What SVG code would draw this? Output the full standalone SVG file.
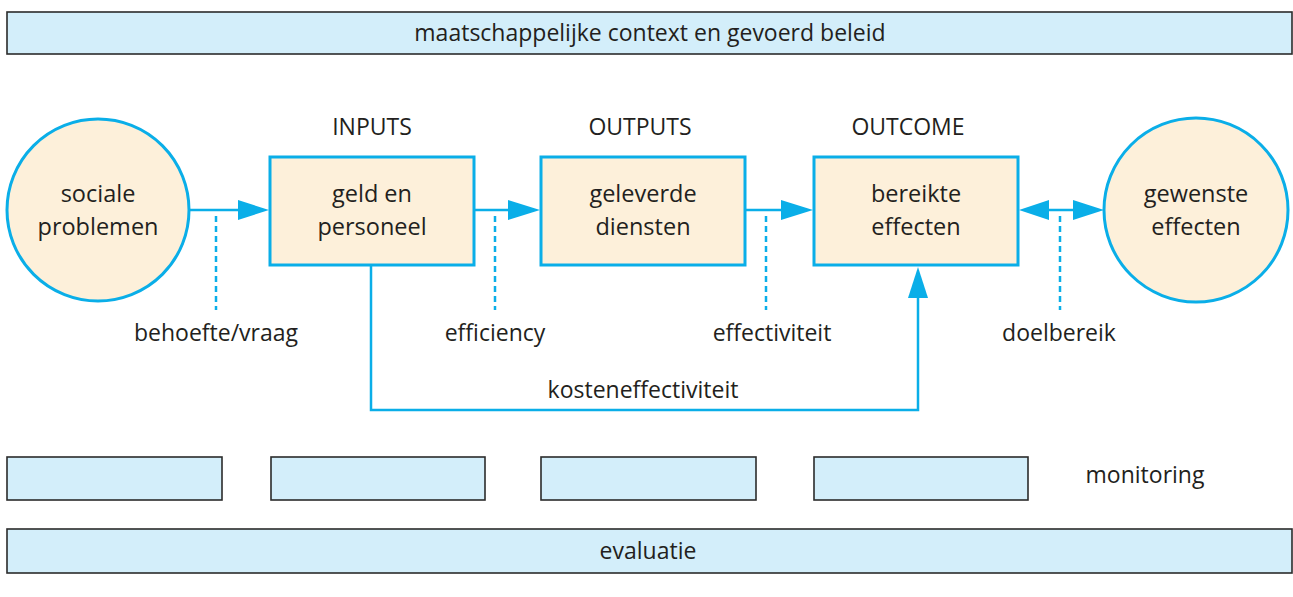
<svg xmlns="http://www.w3.org/2000/svg" width="1293" height="597" viewBox="0 0 1293 597">
<style>
text{font-family:"Open Sans","Noto Sans",sans-serif;fill:#231f20;text-anchor:middle}
.bar{fill:#d3eefa;stroke:#2b2b2b;stroke-width:1.6}
.node{fill:#fdf0da;stroke:#0aaee8;stroke-width:3}
.ln{fill:none;stroke:#0aaee8;stroke-width:2.5}
.dash{fill:none;stroke:#0aaee8;stroke-width:2.5;stroke-dasharray:6,4}
.hd{fill:#0aaee8}
.t{font-size:23px}
.n{font-size:23.5px}
</style>
<g id="context"><rect class="bar" x="7" y="12" width="1285" height="42"/><text class="t" x="650" y="41">maatschappelijke context en gevoerd beleid</text></g>
<g id="labels">
<text class="t" x="372" y="135">INPUTS</text>
<text class="t" x="640" y="135">OUTPUTS</text>
<text class="t" x="908" y="135">OUTCOME</text>
</g>
<g id="sociale-problemen"><circle class="node" cx="98" cy="210" r="91"/><text class="n" x="98" y="202">sociale</text><text class="n" x="98" y="235">problemen</text></g>
<g id="inputs"><rect class="node" x="270" y="157" width="204" height="108"/><text class="n" x="372" y="202">geld en</text><text class="n" x="372" y="235">personeel</text></g>
<g id="outputs"><rect class="node" x="541" y="157" width="204" height="108"/><text class="n" x="643" y="202">geleverde</text><text class="n" x="643" y="235">diensten</text></g>
<g id="outcome"><rect class="node" x="814" y="157" width="204" height="108"/><text class="n" x="916" y="202">bereikte</text><text class="n" x="916" y="235">effecten</text></g>
<g id="gewenste-effecten"><circle class="node" cx="1196" cy="210" r="92"/><text class="n" x="1196" y="202">gewenste</text><text class="n" x="1196" y="235">effecten</text></g>
<g id="connectors">
<line class="ln" x1="189" y1="210" x2="245" y2="210"/><polygon class="hd" points="238,200 269,210 238,220"/>
<line class="ln" x1="475" y1="210" x2="515" y2="210"/><polygon class="hd" points="508,200 540,210 508,220"/>
<line class="ln" x1="746" y1="210" x2="788" y2="210"/><polygon class="hd" points="781,200 813,210 781,220"/>
<line class="ln" x1="1040" y1="210" x2="1082" y2="210"/><polygon class="hd" points="1049,200 1019,210 1049,220"/><polygon class="hd" points="1073,200 1104,210 1073,220"/>
<polyline class="ln" points="371,265 371,410 918,410 918,292"/><polygon class="hd" points="908,298 918,267 928,298"/>
<line class="dash" x1="216" y1="216" x2="216" y2="310"/>
<line class="dash" x1="495" y1="216" x2="495" y2="310"/>
<line class="dash" x1="766" y1="216" x2="766" y2="310"/>
<line class="dash" x1="1060" y1="216" x2="1060" y2="310"/>
</g>
<g id="connector-labels">
<text class="t" x="216" y="341">behoefte/vraag</text>
<text class="t" x="495" y="341">efficiency</text>
<text class="t" x="772" y="341">effectiviteit</text>
<text class="t" x="1059" y="341">doelbereik</text>
<text class="t" x="643" y="398">kosteneffectiviteit</text>
</g>
<g id="monitoring">
<rect class="bar" x="7" y="457" width="215" height="43"/>
<rect class="bar" x="271" y="457" width="214" height="43"/>
<rect class="bar" x="541" y="457" width="215" height="43"/>
<rect class="bar" x="814" y="457" width="214" height="43"/>
<text class="t" x="1145" y="483">monitoring</text>
</g>
<g id="evaluatie"><rect class="bar" x="7" y="529" width="1285" height="44"/><text class="t" x="648" y="559">evaluatie</text></g>
</svg>
